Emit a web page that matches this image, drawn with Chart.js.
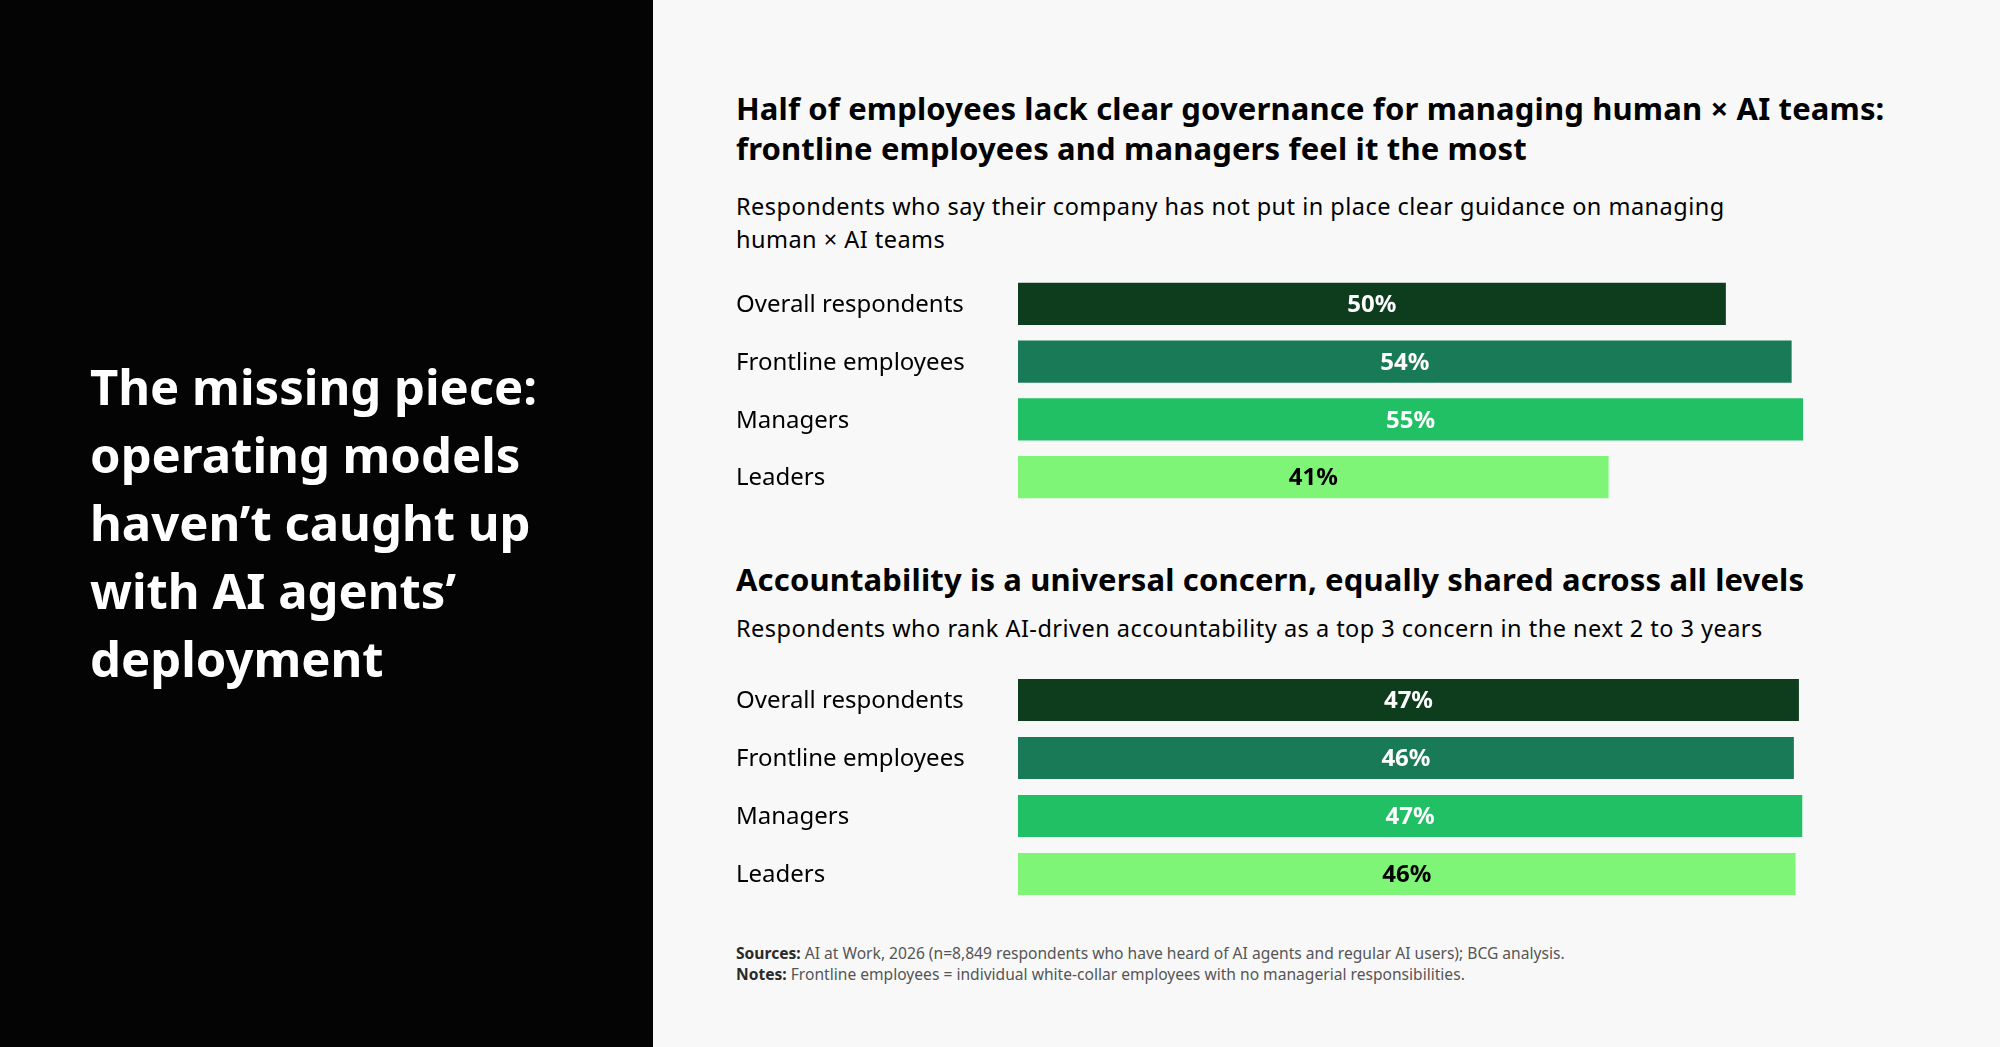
<!DOCTYPE html>
<html lang="en">
<head>
<meta charset="utf-8">
<title>Human × AI teams: governance and accountability</title>
<script src="https://cdn.jsdelivr.net/npm/chart.js@4.4.1/dist/chart.umd.min.js"></script>
<style>
  html, body { margin: 0; padding: 0; }
  body {
    width: 2000px; height: 1047px; position: relative; overflow: hidden;
    background: #f8f8f8; font-family: "Noto Sans", sans-serif; color: #000;
  }
  #side { position: absolute; left: 0; top: 0; width: 653px; height: 1047px; background: #040404; }
  #side h1 {
    position: absolute; left: 90px; top: 352px; margin: 0;
    font-size: 49px; line-height: 68px; font-weight: 700; color: #fff;
  }
  .title { position: absolute; left: 736px; margin: 0; font-size: 31px; line-height: 40px; font-weight: 700; letter-spacing: 0.15px; }
  .sub { position: absolute; left: 736px; margin: 0; font-size: 23.5px; line-height: 33px; font-weight: 400; letter-spacing: 0.48px; }
  .chartbox { position: absolute; left: 736px; width: 1140px; }
  #foot { position: absolute; left: 736px; top: 942.5px; margin: 0; font-size: 15.6px; line-height: 21px; color: #555; }
  #foot b { color: #2a2a2a; }
</style>
</head>
<body>
<div id="side">
  <h1>The missing piece:<br>operating models<br>haven’t caught up<br>with AI agents’<br>deployment</h1>
</div>

<h2 class="title" style="top:87.5px">Half of employees lack clear governance for managing human × AI teams:<br>frontline employees and managers feel it the most</h2>
<p class="sub" style="top:189.5px">Respondents who say their company has not put in place clear guidance on managing<br>human × AI teams</p>
<div class="chartbox" style="top:275px"><canvas id="governanceChart" width="1140" height="231"></canvas></div>

<h2 class="title" style="top:558.5px">Accountability is a universal concern, equally shared across all levels</h2>
<p class="sub" style="top:611.5px">Respondents who rank AI-driven accountability as a top 3 concern in the next 2 to 3 years</p>
<div class="chartbox" style="top:671px"><canvas id="accountabilityChart" width="1140" height="232"></canvas></div>

<p id="foot"><b>Sources:</b> AI at Work, 2026 (n=8,849 respondents who have heard of AI agents and regular AI users); BCG analysis.<br><b>Notes:</b> Frontline employees = individual white-collar employees with no managerial responsibilities.</p>

<script>
// Data (bar lengths estimated, labels are the rounded values)
const groups = ['Overall respondents', 'Frontline employees', 'Managers', 'Leaders'];
const governanceValues = [49.5, 54.1, 54.9, 41.3];
const accountabilityValues = [46.6, 46.3, 46.8, 46.4];

const barColors = ['#0e3d1e', '#197a57', '#22c065', '#7ff577'];
const labelColors = ['#ffffff', '#ffffff', '#ffffff', '#000000'];

// Draw the rounded percentage in the middle of every bar
const valueLabels = {
    id: 'valueLabels',
    afterDatasetsDraw(chart) {
        const ctx = chart.ctx;
        const meta = chart.getDatasetMeta(0);
        const values = chart.data.datasets[0].data;
        ctx.save();
        ctx.font = '700 24px "Noto Sans", sans-serif';
        ctx.textAlign = 'center';
        ctx.textBaseline = 'middle';
        meta.data.forEach((bar, i) => {
            ctx.fillStyle = labelColors[i];
            ctx.fillText(Math.round(values[i]) + '%', (bar.x + bar.base) / 2, bar.y + 1.3);
        });
        ctx.restore();
    }
};

const initChart = (id, values, xMax) => {
    const ctx = document.getElementById(id);
    if (!ctx) return;

    new Chart(ctx, {
        type: 'bar',
        data: {
            labels: groups,
            datasets: [{
                data: values,
                backgroundColor: barColors,
                borderWidth: 0,
                categoryPercentage: 1,
                barPercentage: 0.728
            }]
        },
        options: {
            indexAxis: 'y',
            responsive: false,
            animation: false,
            devicePixelRatio: 1,
            layout: { padding: 0 },
            plugins: { legend: { display: false }, tooltip: { enabled: false } },
            scales: {
                x: { display: false, min: 0, max: xMax },
                y: {
                    grid: { display: false },
                    border: { display: false },
                    // fixed label column, and no extra room above/below the bars
                    afterFit: (scale) => {
                        scale.width = 282;
                        scale.paddingTop = 0;
                        scale.paddingBottom = 0;
                    },
                    ticks: {
                        crossAlign: 'far',
                        color: '#000',
                        padding: 0,
                        labelOffset: 1.3,
                        font: { family: '"Noto Sans", sans-serif', size: 24 }
                    }
                }
            }
        },
        plugins: [valueLabels]
    });
};

document.fonts.ready.then(() => {
    initChart('governanceChart', governanceValues, 60);
    initChart('accountabilityChart', accountabilityValues, 51.2);
});
</script>
</body>
</html>
